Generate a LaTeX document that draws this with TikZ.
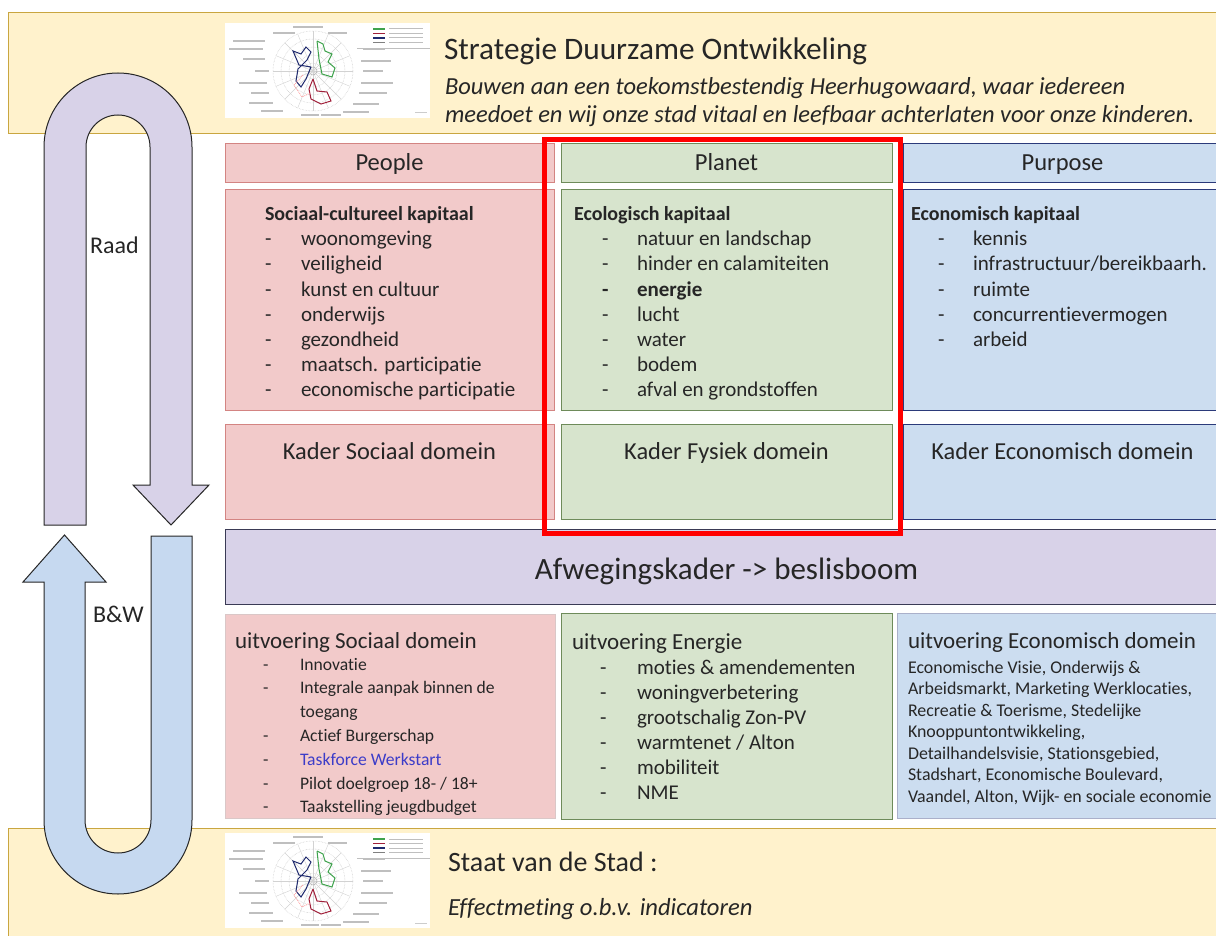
\documentclass[tikz,border=0pt]{standalone}
\usepackage{fontspec}
\setmainfont{Carlito}[Ligatures={NoCommon,NoContextual}]
\definecolor{ybg}{HTML}{FFF2CC}
\definecolor{ybd}{HTML}{C9A640}
\definecolor{pk}{HTML}{F2CACA}
\definecolor{pkd}{HTML}{C0504D}
\definecolor{gn}{HTML}{D7E4CD}
\definecolor{gnd}{HTML}{6E8B5A}
\definecolor{bl}{HTML}{CCDDF0}
\definecolor{bld}{HTML}{2B3A7A}
\definecolor{lav}{HTML}{D8D2E8}
\definecolor{lavd}{HTML}{3A3A55}
\definecolor{arrbl}{HTML}{C6D9F0}
\definecolor{txt}{HTML}{262626}
\definecolor{taskblue}{HTML}{3C3CC8}
\definecolor{navyc}{HTML}{1F2A6E}
\definecolor{grc}{HTML}{3FA34D}
\definecolor{rdc}{HTML}{A0203A}
\newcommand\setfs[1]{\fontsize{#1}{#1}\selectfont}
\tikzset{
  radar/.pic={
    \fill[white] (0,0) rectangle (205,95);
    \begin{scope}[shift={(88,48)}]
      \foreach \r in {8,16,24,32,40} \draw[gray!45, densely dotted, line width=0.5pt] (0,0) circle (\r);
      \foreach \a in {0,22.5,...,337.5} \draw[gray!35, line width=0.4pt] (0,0) -- (\a:40);
      \draw[gray!60, line width=0.5pt] (0,0) circle (4);
      \foreach \xa/\xb/\yy in {-80/-48/-30, -84/-50/-22, -70/-48/-12, -58/-44/0, -74/-46/12, -62/-44/22, -64/-40/32, -52/-30/40, 50/72/-22, 48/78/-10, 50/70/0, 48/80/12, 46/74/22, 40/66/33, 30/56/41, -20/10/-44, -40/-18/-38, 15/34/-38, -12/6/44, 8/28/44}
        \draw[gray!50, line width=1.2pt] (\xa,\yy) -- (\xb,\yy);
      \draw[navyc, line width=1pt] (-2,-4) -- (-14,-6) -- (-20,-20) -- (-12,-17) -- (-7,-24) -- (-2,-19) -- (-6,-11) -- (-15,-2) -- (-17,10) -- (-12,16) -- (-7,8) -- (-2,-4);
      \draw[grc, line width=1pt] (4,-30) -- (10,-27) -- (12,-20) -- (19,-17) -- (15,-9) -- (22,-3) -- (19,6) -- (9,3) -- (6,-12) -- (4,-30);
      \draw[rdc, line width=1pt] (0,8) -- (4,20) -- (14,21) -- (18,30) -- (8,33) -- (-2,28) -- (-4,18) -- (0,8);
      \draw[red!40, densely dotted, line width=0.8pt] (-10,4) -- (-19,14) -- (-11,26) -- (-3,22);
    \end{scope}
    \foreach \c [count=\k from 0] in {grc, rdc, navyc, gray} {
      \draw[\c, line width=1.1pt] (148,6+4.5*\k) -- (160,6+4.5*\k);
      \draw[gray!50, line width=1pt] (164,6+4.5*\k) -- (198,6+4.5*\k);
    }
    \draw[gray!50, line width=0.5pt] (132,25) -- (205,25);
    \draw[gray!40, line width=1pt] (190,90) -- (202,90);
  }
}
\begin{document}
\begin{tikzpicture}[x=1pt,y=-1pt,
  lbl/.style={inner sep=0pt, outer sep=0pt, text=txt, anchor=base west},
  clbl/.style={inner sep=0pt, outer sep=0pt, text=txt, anchor=base},
  ybox/.style={fill=ybg, draw=ybd, line width=1pt},
  pkbox/.style={fill=pk, draw=pkd!70, line width=0.8pt},
  gnbox/.style={fill=gn, draw=gnd, line width=0.8pt},
  blbox/.style={fill=bl, draw=bld, line width=0.8pt},
  lavbox/.style={fill=lav, draw=lavd, line width=0.9pt},
  arrowshape/.style={draw=black!85, line width=1pt}
]
\useasboundingbox (0,0) rectangle (1216,936);
\fill[white] (0,0) rectangle (1216,936);

% bands
\draw[ybox] (8,13) rectangle (1224,134);
\draw[ybox] (8,828) rectangle (1224,942);

% thumbnails
\pic at (225,23) {radar};
\pic at (225,833) {radar};

% top texts
\node[lbl, font=\setfs{31.3}] (title) at (444,60) {Strategie Duurzame Ontwikkeling};
\node[lbl, font=\setfs{24.5}\itshape] (sub1) at (445,95) {Bouwen aan een toekomstbestendig Heerhugowaard, waar iedereen};
\node[lbl, font=\setfs{24.5}\itshape] (sub2) at (445,123) {meedoet en wij onze stad vitaal en leefbaar achterlaten voor onze kinderen.};

% bottom texts
\node[lbl, font=\setfs{28}] (staat) at (448,871) {Staat van de Stad :};
\node[lbl, font=\setfs{24.6}\itshape] (effect) at (448,915) {Effectmeting o.b.v. indicatoren};

% column boxes
\draw[pkbox] (225,143) rectangle (554,182);
\draw[pkbox] (225,189) rectangle (554,410);
\draw[pkbox] (225,424) rectangle (554,519);
\draw[gnbox] (561,143) rectangle (892,182);
\draw[gnbox] (561,189) rectangle (892,410);
\draw[gnbox] (561,424) rectangle (892,519);
\draw[blbox] (903,143) rectangle (1224,182);
\draw[blbox] (903,189) rectangle (1224,410);
\draw[blbox] (903,424) rectangle (1224,519);
\draw[lavbox] (225,529) rectangle (1224,604);
\draw[fill=pk, draw=pk!80!black!60, line width=0.6pt] (225,614) rectangle (555,818);
\draw[gnbox] (561,613) rectangle (892,819);
\draw[fill=bl, draw=bld!40, line width=0.6pt] (897,613) rectangle (1224,818);

% headers
\node[clbl, font=\setfs{24.5}] (people) at (389.5,171) {People};
\node[clbl, font=\setfs{24.5}] (planet) at (726.5,171) {Planet};
\node[clbl, font=\setfs{24.5}] (purpose) at (1062.5,171) {Purpose};

% capital lists
\node[lbl, font=\setfs{20}\bfseries] (sockap) at (265,221) {Sociaal-cultureel kapitaal};
\foreach \t [count=\i from 0] in {woonomgeving, veiligheid, kunst en cultuur, onderwijs, gezondheid, maatsch. participatie, economische participatie}{
  \node[lbl, font=\setfs{21}] (sd\i) at (265,246+25*\i) {-};
  \node[lbl, font=\setfs{21}] (st\i) at (301,246+25*\i) {\t};
}
\node[lbl, font=\setfs{20}\bfseries] (ecokap) at (574,221) {Ecologisch kapitaal};
\foreach \d/\t [count=\i from 0] in {-/natuur en landschap, -/hinder en calamiteiten, \textbf{-}/\textbf{energie}, -/lucht, -/water, -/bodem, -/afval en grondstoffen}{
  \node[lbl, font=\setfs{21}] (ed\i) at (602,246+25*\i) {\d};
  \node[lbl, font=\setfs{21}] (et\i) at (637,246+25*\i) {\t};
}
\node[lbl, font=\setfs{20}\bfseries] (econkap) at (911,221) {Economisch kapitaal};
\foreach \t [count=\i from 0] in {kennis, infrastructuur/bereikbaarh., ruimte, concurrentievermogen, arbeid}{
  \node[lbl, font=\setfs{21}] (cd\i) at (938,246+25*\i) {-};
  \node[lbl, font=\setfs{21}] (ct\i) at (973,246+25*\i) {\t};
}

% kader
\node[clbl, font=\setfs{24.4}] (ksoc) at (389.5,459) {Kader Sociaal domein};
\node[clbl, font=\setfs{24.4}] (kfys) at (726.5,459) {Kader Fysiek domein};
\node[clbl, font=\setfs{24.4}] (keco) at (1062.5,459) {Kader Economisch domein};

% afwegingskader
\node[clbl, font=\setfs{31}] (afw) at (726.5,579) {Afwegingskader -> beslisboom};

% uitvoering sociaal
\node[lbl, font=\setfs{23}] (usoc) at (235,648) {uitvoering Sociaal domein};
\foreach \d/\t [count=\i from 0] in {-/Innovatie, -/Integrale aanpak binnen de, {}/toegang, -/Actief Burgerschap, -/\textcolor{taskblue}{Taskforce Werkstart}, -/{Pilot doelgroep 18- / 18+}, -/Taakstelling jeugdbudget}{
  \node[lbl, font=\setfs{17.6}] (ud\i) at (263,670+23.8*\i) {\d};
  \node[lbl, font=\setfs{17.6}] (ut\i) at (300,670+23.8*\i) {\t};
}
% uitvoering energie
\node[lbl, font=\setfs{23}] (uen) at (572,649) {uitvoering Energie};
\foreach \t [count=\i from 0] in {moties \& amendementen, woningverbetering, grootschalig Zon-PV, warmtenet / Alton, mobiliteit, NME}{
  \node[lbl, font=\setfs{21}] (nd\i) at (600,674+25*\i) {-};
  \node[lbl, font=\setfs{21}] (nt\i) at (637,674+25*\i) {\t};
}
% uitvoering economisch
\node[lbl, font=\setfs{23}] (ueco) at (908,648) {uitvoering Economisch domein};
\foreach \t [count=\i from 0] in {{Economische Visie, Onderwijs \&}, {Arbeidsmarkt, Marketing Werklocaties,}, {Recreatie \& Toerisme, Stedelijke}, {Knooppuntontwikkeling,}, {Detailhandelsvisie, Stationsgebied,}, {Stadshart, Economische Boulevard,}, {Vaandel, Alton, Wijk- en sociale economie}}{
  \node[lbl, font=\setfs{17.9}] (ue\i) at (908,673+21.5*\i) {\t};
}

% red highlight
\draw[red, line width=5pt] (544,140) rectangle (900,533);

% U arrows
\draw[arrowshape, fill=lav] (44,525) -- (44,147) arc[start angle=180, end angle=360, radius=74]
  -- (192,485) -- (209,485) -- (171,525) -- (133,485) -- (150,485) -- (150,147)
  arc[start angle=360, end angle=180, radius=32] -- (86,525) -- cycle;
\draw[arrowshape, fill=arrbl] (151,536) -- (192,536) -- (192,820) arc[start angle=0, end angle=180, radius=74]
  -- (44,582) -- (23,582) -- (64.5,535) -- (106,582) -- (85,582) -- (85,820)
  arc[start angle=180, end angle=0, radius=33] -- cycle;
\node[lbl, font=\setfs{24}] (raad) at (90,254) {Raad};
\node[lbl, font=\setfs{24}] (bw) at (93,622) {B\&W};
\end{tikzpicture}
\end{document}
